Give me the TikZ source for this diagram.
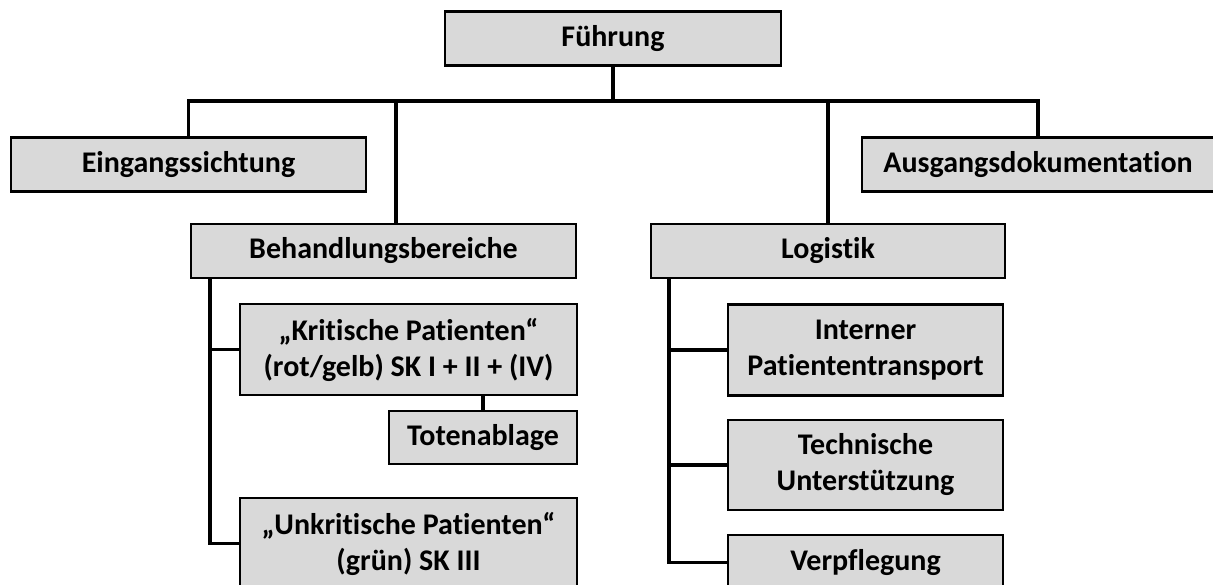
\documentclass[tikz,border=0pt]{standalone}
\usepackage{fontspec}
\setmainfont{Carlito}[Ligatures=NoCommon]
\usepackage{tikz}
\usetikzlibrary{positioning,calc}
\definecolor{boxgray}{HTML}{D9D9D9}

\begin{document}
\begin{tikzpicture}[
                    x=1pt, y=-1pt,
                    box style/.style={
                        rectangle,
                        draw=black,
                        line width=2.6pt,
                        fill=boxgray,
                        align=center,
                        font=\bfseries\fontsize{30}{36}\selectfont,
                        inner sep=0pt,
                        minimum height=54pt
                    },
                    tall box/.style={box style, minimum height=91pt},
                    line style/.style={draw, line width=3.6pt, black}
                ]
                    \useasboundingbox (0,0) rectangle (1213,585);
                    \clip (0,0) rectangle (1213,585);

                    % first level
                    \node[box style, minimum width=336pt] (fuehrung) at (613,38.5) {Führung};
                    \node[box style, minimum width=355pt] (eingang) at (188.5,164.5) {Eingangssichtung};
                    \node[box style, minimum width=352pt] (ausgang) at (1038,164.5) {Ausgangsdokumentation};
                    \node[box style, minimum width=385pt] (behandlung) at (383.5,251) {Behandlungsbereiche};
                    \node[box style, minimum width=354pt] (logistik) at (828,251) {Logistik};

                    % Behandlungsbereiche
                    \node[tall box, minimum width=337pt] (kritisch) at (408.5,349.5) {„Kritische Patienten“\\(rot/gelb) SK I + II + (IV)};
                    \node[box style, minimum width=188pt, minimum height=53pt] (toten) at (483,437.5) {Totenablage};
                    \node[tall box, minimum width=337pt] (unkritisch) at (408.5,543.5) {„Unkritische Patienten“\\(grün) SK III};

                    % Logistik
                    \node[tall box, minimum width=275pt] (transport) at (865.5,350) {Interner\\Patiententransport};
                    \node[tall box, minimum width=275pt, minimum height=90pt] (technik) at (865.5,465) {Technische\\Unterstützung};
                    \node[box style, minimum width=275pt, minimum height=55pt] (verpflegung) at (865.5,562.5) {Verpflegung};

                    % connectors
                    \coordinate (bus) at (0,101);
                    \draw[line style] (fuehrung.south) -- (fuehrung.south |- bus);
                    \draw[line style] (eingang.north) -- (eingang.north |- bus) -- (ausgang.north |- bus) -- (ausgang.north);
                    \coordinate (bb top) at ($(behandlung.north)+(12.5,0)$);
                    \draw[line style] (bb top) -- (bb top |- bus);
                    \draw[line style] (logistik.north) -- (logistik.north |- bus);

                    \coordinate (bb trunk) at ($(behandlung.south west)+(20,0)$);
                    \draw[line style] (bb trunk) |- (unkritisch.west);
                    \draw[line style] (bb trunk |- kritisch.west) -- (kritisch.west);
                    \draw[line style] (kritisch.south -| toten.north) -- (toten.north);

                    \coordinate (lg trunk) at ($(logistik.south west)+(19,0)$);
                    \draw[line style] (lg trunk) |- (verpflegung.west);
                    \draw[line style] (lg trunk |- transport.west) -- (transport.west);
                    \draw[line style] (lg trunk |- technik.west) -- (technik.west);
                \end{tikzpicture}
\end{document}
